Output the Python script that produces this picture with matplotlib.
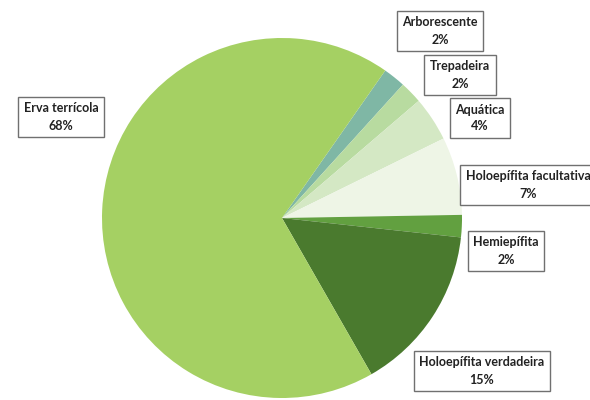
import matplotlib
matplotlib.use("Agg")
import matplotlib.pyplot as plt

# share of species by life form (%), clockwise from the top right
labels = ["Arborescente", "Trepadeira", "Aquática", "Holoepífita facultativa",
          "Hemiepífita", "Holoepífita verdadeira", "Erva terrícola"]
values = [2, 2, 4, 7, 2, 15, 68]
colors = ["#7fb7a5", "#b8dba0", "#d4e8c4", "#eef5e6",
          "#62a040", "#4a7a2e", "#a5d063"]

# label box centres in figure pixels (x right, y down)
label_pos = [(440, 31), (460, 75), (480, 118), (528, 185),
             (506, 251), (482, 371), (61, 117)]

W, H = 590, 400
fig = plt.figure(figsize=(W / 100, H / 100), dpi=100)
ax = fig.add_axes([0, 0, 1, 1])

ax.pie(values, colors=colors, startangle=55, counterclock=False,
       center=(282, H - 218), radius=180, frame=True,
       wedgeprops=dict(linewidth=0))
ax.set_xlim(0, W)
ax.set_ylim(0, H)
ax.set_aspect("equal")
ax.axis("off")

for name, val, (x, y) in zip(labels, values, label_pos):
    ax.text(x, H - y, f"{name}\n{val}%", ha="center", va="center",
            fontsize=9, fontweight="bold", family="Lato", color="#222222",
            linespacing=1.5,
            bbox=dict(boxstyle="square,pad=0.45", fc="white",
                      ec="#707070", lw=1.0))

fig.savefig("out.png", dpi=100)
